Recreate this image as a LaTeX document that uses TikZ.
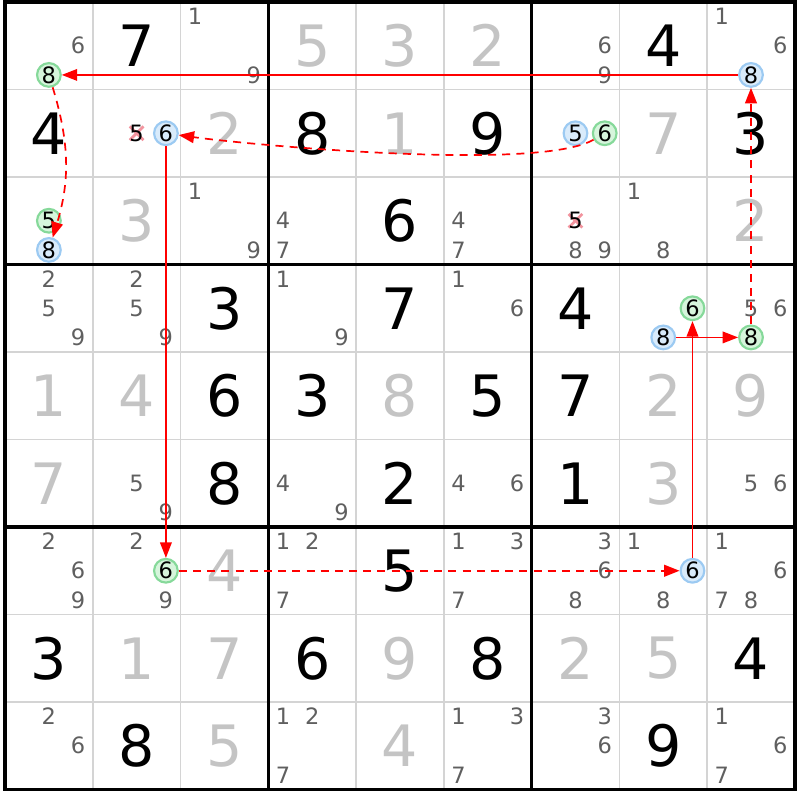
\documentclass[tikz,border=0pt]{standalone}
\usepackage{fontspec}
\setmainfont{DejaVu Sans}
\usetikzlibrary{arrows.meta}
\definecolor{solvedgray}{HTML}{C4C4C4}
\definecolor{candgray}{HTML}{5F5F5F}
\definecolor{thingrid}{HTML}{D4D4D4}
\definecolor{onring}{HTML}{86D99A}
\definecolor{onfill}{HTML}{D6F5DC}
\definecolor{offring}{HTML}{9CCAF2}
\definecolor{offfill}{HTML}{D9EBFB}
\definecolor{strikepink}{HTML}{F2949E}
\newcommand\bigdigit{\fontsize{18.5}{18.5}\selectfont}
\newcommand\smalldigit{\fontsize{7.3}{7.3}\selectfont}
\tikzset{
  given/.style={font=\bigdigit,text=black,inner sep=0pt},
  solved/.style={given,text=solvedgray},
  cand/.style={font=\smalldigit,text=candgray,inner sep=0pt},
  oncand/.style={cand,text=black,circle,draw=onring,fill=onfill,line width=0.7pt,minimum size=0.27cm},
  offcand/.style={oncand,draw=offring,fill=offfill},
  strong/.style={red,line width=0.4pt,->},
  weak/.style={strong,line width=0.55pt,dash pattern=on 2.6pt off 2pt},
}
\begin{document}
\begin{tikzpicture}[>={Triangle[length=5pt,width=3.8pt]},x=1cm,y=0.997cm]
  \useasboundingbox (-0.057,0.023) rectangle (9.057,-9.12);
  % grid
  \foreach \i in {0,...,9}{
    \draw[thingrid,line width=0.5pt] (\i,0)--(\i,-9);
    \draw[thingrid,line width=0.5pt] (0,-\i)--(9,-\i);
  }
  \foreach \i in {0,3,6,9}{
    \draw[line width=1.05pt,line cap=rect] (\i,0)--(\i,-9);
    \draw[line width=1.05pt,line cap=rect] (0,-\i)--(9,-\i);
  }
  % big digits
  \foreach \r/\c/\v in {1/2/7,1/8/4,2/1/4,2/4/8,2/6/9,2/9/3,3/5/6,4/3/3,4/5/7,4/7/4,5/3/6,5/4/3,5/6/5,5/7/7,
      6/3/8,6/5/2,6/7/1,7/5/5,8/1/3,8/4/6,8/6/8,8/9/4,9/2/8,9/8/9}
    \node[given] (v\r\c) at (\c-0.5,0.5-\r) {\v};
  \foreach \r/\c/\v in {1/4/5,1/5/3,1/6/2,2/3/2,2/5/1,2/8/7,3/2/3,3/9/2,5/1/1,5/2/4,5/5/8,5/8/2,5/9/9,
      6/1/7,6/8/3,7/3/4,8/2/1,8/3/7,8/5/9,8/7/2,8/8/5,9/3/5,9/5/4}
    \node[solved] (v\r\c) at (\c-0.5,0.5-\r) {\v};
  % pencil marks
  \foreach \r/\c/\ds in {1/1/{6},1/3/{1,9},1/7/{6,9},1/9/{1,6},
      3/3/{1,9},3/4/{4,7},3/6/{4,7},3/7/{8,9},3/8/{1,8},
      4/1/{2,5,9},4/2/{2,5,9},4/4/{1,9},4/6/{1,6},4/9/{5,6},
      6/2/{5,9},6/4/{4,9},6/6/{4,6},6/9/{5,6},
      7/1/{2,6,9},7/2/{2,9},7/4/{1,2,7},7/6/{1,3,7},7/7/{3,6,8},7/8/{1,8},7/9/{1,6,7,8},
      9/1/{2,6},9/4/{1,2,7},9/6/{1,3,7},9/7/{3,6},9/9/{1,6,7}}
    \foreach \d in \ds {
      \pgfmathsetmacro\px{\c-5/6+mod(\d-1,3)/3}
      \pgfmathsetmacro\py{1-\r-1/6-floor((\d-1)/3)/3}
      \node[cand] (k\r\c\d) at (\px,\py) {\d};
    }
  % struck out fives
  \foreach \r/\c in {2/2,3/7}{
    \coordinate (x\r\c) at (\c-0.5,0.5-\r);
    \draw[strikepink,line width=0.9pt] ([shift={(-.078,-.078)}]x\r\c)--([shift={(.078,.078)}]x\r\c);
    \draw[strikepink,line width=0.9pt] ([shift={(-.078,.078)}]x\r\c)--([shift={(.078,-.078)}]x\r\c);
    \node[cand,text=black] (s\r\c5) at (x\r\c) {5};
  }
  % chain candidates
  \foreach \r/\c/\d in {1/1/8,2/7/6,3/1/5,4/8/6,4/9/8,7/2/6}{
    \pgfmathsetmacro\px{\c-5/6+mod(\d-1,3)/3}
    \pgfmathsetmacro\py{1-\r-1/6-floor((\d-1)/3)/3}
    \node[oncand] (on\r\c\d) at (\px,\py) {\d};
  }
  \foreach \r/\c/\d in {1/9/8,2/2/6,2/7/5,3/1/8,4/8/8,7/8/6}{
    \pgfmathsetmacro\px{\c-5/6+mod(\d-1,3)/3}
    \pgfmathsetmacro\py{1-\r-1/6-floor((\d-1)/3)/3}
    \node[offcand] (off\r\c\d) at (\px,\py) {\d};
  }
  % links
  \draw[strong] (off198)--(on118);
  \draw[weak] (on118) to[bend left=17] (off318);
  \draw[weak] (on276) to[out=210,in=-8,looseness=0.4] (off226);
  \draw[strong] (off226)--(on726);
  \draw[weak] (on726)--(off786);
  \draw[strong] (off786)--(on486);
  \draw[strong] (off488)--(on498);
  \draw[weak] (on498)--(off198);
\end{tikzpicture}
\end{document}
